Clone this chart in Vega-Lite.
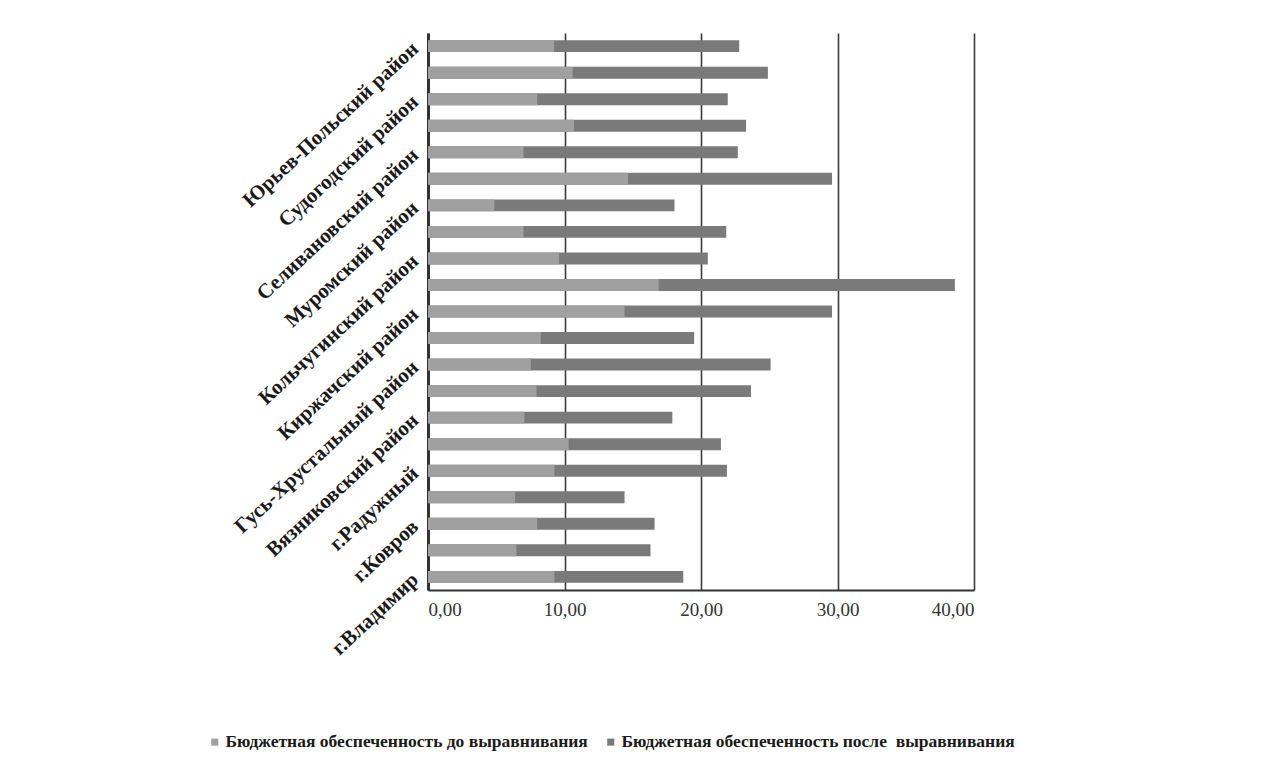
{
  "$schema": "https://vega.github.io/schema/vega-lite/v6.json",
  "width": 546,
  "height": 557,
  "autosize": "none",
  "padding": {"left": 428, "top": 33, "right": 290, "bottom": 188},
  "background": "white",
  "config": {"view": {"stroke": null}, "font": "Liberation Serif"},
  "data": {
    "values": [
      {"region": "г.Владимир", "before": 9.26, "after": 18.7},
      {"region": "г.Гусь-Хрустальный", "before": 6.48, "after": 16.3},
      {"region": "г.Ковров", "before": 8.0, "after": 16.6},
      {"region": "г.Муром", "before": 6.38, "after": 14.4},
      {"region": "г.Радужный", "before": 9.26, "after": 21.9},
      {"region": "Александровский район", "before": 10.3, "after": 21.46},
      {"region": "Вязниковский район", "before": 7.06, "after": 17.9},
      {"region": "Гороховецкий район", "before": 7.95, "after": 23.66},
      {"region": "Гусь-Хрустальный район", "before": 7.53, "after": 25.1},
      {"region": "Камешковский район", "before": 8.26, "after": 19.5},
      {"region": "Киржачский район", "before": 14.4, "after": 29.6},
      {"region": "Ковровский район", "before": 16.9, "after": 38.6},
      {"region": "Кольчугинский район", "before": 9.6, "after": 20.5},
      {"region": "Меленковский район", "before": 7.0, "after": 21.85},
      {"region": "Муромский район", "before": 4.86, "after": 18.06},
      {"region": "Петушинский район", "before": 14.65, "after": 29.6},
      {"region": "Селивановский район", "before": 7.0, "after": 22.7},
      {"region": "Собинский район", "before": 10.7, "after": 23.3},
      {"region": "Судогодский район", "before": 8.0, "after": 21.96},
      {"region": "Суздальский район", "before": 10.6, "after": 24.9},
      {"region": "Юрьев-Польский район", "before": 9.24, "after": 22.8}
    ]
  },
  "transform": [{"fold": ["after", "before"], "as": ["key", "value"]}],
  "mark": {"type": "bar"},
  "encoding": {
    "y": {
      "field": "region",
      "type": "nominal",
      "sort": [
        "Юрьев-Польский район", "Суздальский район", "Судогодский район", "Собинский район",
        "Селивановский район", "Петушинский район", "Муромский район", "Меленковский район",
        "Кольчугинский район", "Ковровский район", "Киржачский район", "Камешковский район",
        "Гусь-Хрустальный район", "Гороховецкий район", "Вязниковский район", "Александровский район",
        "г.Радужный", "г.Муром", "г.Ковров", "г.Гусь-Хрустальный", "г.Владимир"
      ],
      "scale": {"paddingInner": 0.55, "paddingOuter": 0.27},
      "axis": {
        "title": null,
        "values": [
          "Юрьев-Польский район", "Судогодский район", "Селивановский район", "Муромский район",
          "Кольчугинский район", "Киржачский район", "Гусь-Хрустальный район", "Вязниковский район",
          "г.Радужный", "г.Ковров", "г.Владимир"
        ],
        "labelAngle": -43,
        "labelAlign": "right",
        "labelBaseline": "middle",
        "labelFont": "Liberation Serif",
        "labelFontWeight": "bold",
        "labelFontSize": 21,
        "labelColor": "#1a1a1a",
        "labelPadding": 13,
        "labelLimit": 400,
        "labelOverlap": false,
        "ticks": false,
        "domain": true,
        "domainColor": "#333333",
        "domainWidth": 3,
        "grid": false
      }
    },
    "x": {
      "field": "value",
      "type": "quantitative",
      "stack": null,
      "scale": {"domain": [0, 40], "nice": false},
      "axis": {
        "title": null,
        "values": [0, 10, 20, 30, 40],
        "labelExpr": "replace(format(datum.value, '.2f'), '.', ',')",
        "labelFont": "Liberation Serif",
        "labelFontSize": 19,
        "labelColor": "#333333",
        "labelPadding": 10,
        "ticks": false,
        "grid": true,
        "gridColor": "#3a3a3a",
        "gridWidth": 1.6,
        "domainColor": "#333333",
        "domainWidth": 2
      }
    },
    "color": {
      "field": "key",
      "type": "nominal",
      "scale": {"domain": ["before", "after"], "range": ["#a0a0a0", "#7a7a7a"]},
      "legend": {
        "title": null,
        "orient": "none",
        "direction": "horizontal",
        "legendX": -222,
        "legendY": 700,
        "symbolType": "square",
        "symbolSize": 50,
        "symbolStrokeWidth": 0,
        "labelFont": "Liberation Serif",
        "labelFontWeight": "bold",
        "labelFontSize": 17.5,
        "labelColor": "#1a1a1a",
        "labelLimit": 600,
        "columnPadding": 14,
        "labelOffset": 2,
        "labelExpr": "datum.value == 'before' ? 'Бюджетная обеспеченность до выравнивания' : 'Бюджетная обеспеченность после\u00a0\u00a0выравнивания'"
      }
    },
    "order": {"field": "value", "type": "quantitative", "sort": "descending"}
  }
}
